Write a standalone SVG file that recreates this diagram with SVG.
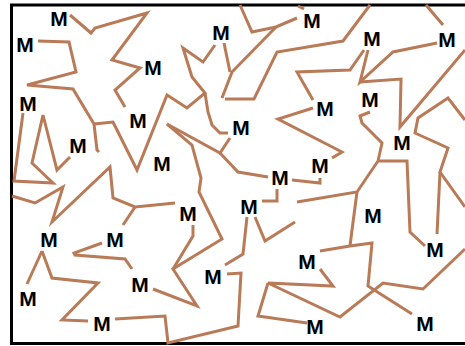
<svg xmlns="http://www.w3.org/2000/svg" width="465" height="346" viewBox="0 0 465 346">
<style>
.c{fill:none;stroke:#b97a57;stroke-width:3;stroke-linejoin:miter;stroke-linecap:butt}
.b{fill:none;stroke:#000;stroke-width:3}
text{font-family:"Liberation Sans",Arial,sans-serif;font-weight:bold;font-size:21px;fill:#000;text-anchor:middle}
</style>
<rect width="465" height="346" fill="#fff"/>
<g id="frame">
<path class="b" d="M10 5H465M11.5 4V345M10 343.5H465"/>
</g>
<g id="connectors">
<polyline class="c" points="70,15 91,33 95,28 147,13 112,60 140,68 115,90 125,107"/>
<polyline class="c" points="38,41 69,42 76,72 27,85 73,89 94,124 97,150 99,152"/>
<polyline class="c" points="94,124 113,122 117,130 137,170 167,95 187,108 205,93 192,77 183,48 203,62 215,45"/>
<polyline class="c" points="205,93 208,112 212,125 220,133 228,133"/>
<polyline class="c" points="240,5 252,32 276,27 297,18"/>
<polyline class="c" points="276,27 232,72 222,98"/>
<polyline class="c" points="224,43 230,72"/>
<polyline class="c" points="225,99 254,99 277,52 343,41 370,5"/>
<polyline class="c" points="298,6 304,9"/>
<polyline class="c" points="364,50 350,70 297,72 313,100"/>
<polyline class="c" points="368,50 360,82 393,52 437,43"/>
<polyline class="c" points="360,82 401,79 400,127 465,50"/>
<polyline class="c" points="426,5 443,25"/>
<polyline class="c" points="465,120 448,98 418,118 415,133 448,148 440,172 465,207"/>
<polyline class="c" points="440,172 437,234"/>
<polyline class="c" points="370,112 360,116 362,123 382,143 378,161 357,192 297,202"/>
<polyline class="c" points="378,161 407,161 410,232 425,246"/>
<polyline class="c" points="357,192 352,230 350,246"/>
<polyline class="c" points="320,251 350,246 372,243 368,286 412,314"/>
<polyline class="c" points="313,108 278,119 342,152 332,158"/>
<polyline class="c" points="292,180 320,183 320,178"/>
<polyline class="c" points="277,189 277,201 262,201"/>
<polyline class="c" points="167,124 220,153 230,138"/>
<polyline class="c" points="220,153 238,172 268,177"/>
<polyline class="c" points="167,124 192,145 201,178 199,192 222,239 173,269 197,306 153,289"/>
<polyline class="c" points="193,225 193,236 173,269"/>
<polyline class="c" points="247,217 243,254 225,265"/>
<polyline class="c" points="255,217 265,241 295,222"/>
<polyline class="c" points="115,319 165,316 168,343 238,326 241,273 227,274"/>
<polyline class="c" points="320,269 333,286 268,283 340,317 383,283 423,289 465,249"/>
<polyline class="c" points="268,283 258,316 307,323"/>
<polyline class="c" points="102,243 74,253 75,255 125,259 132,269"/>
<polyline class="c" points="42,251 27,284"/>
<polyline class="c" points="42,251 52,278 98,283 62,320 88,321"/>
<polyline class="c" points="23,113 14,181 53,183 32,163 43,115 57,170 70,157"/>
<polyline class="c" points="12,196 35,203 63,187 52,222 110,167 113,198 135,207 175,203"/>
<polyline class="c" points="135,207 123,225"/>
</g>
<g id="m1"><text x="59" y="26">M</text></g>
<g id="m2"><text x="25" y="52">M</text></g>
<g id="m3"><text x="221" y="40">M</text></g>
<g id="m4"><text x="312" y="28">M</text></g>
<g id="m5"><text x="372" y="46">M</text></g>
<g id="m6"><text x="447" y="47">M</text></g>
<g id="m7"><text x="153" y="75">M</text></g>
<g id="m8"><text x="28" y="111">M</text></g>
<g id="m9"><text x="138" y="128">M</text></g>
<g id="m10"><text x="325" y="116">M</text></g>
<g id="m11"><text x="370" y="107">M</text></g>
<g id="m12"><text x="241" y="135">M</text></g>
<g id="m13"><text x="78" y="153">M</text></g>
<g id="m14"><text x="162" y="171">M</text></g>
<g id="m15"><text x="402" y="150">M</text></g>
<g id="m16"><text x="320" y="173">M</text></g>
<g id="m17"><text x="280" y="185">M</text></g>
<g id="m18"><text x="249" y="214">M</text></g>
<g id="m19"><text x="188" y="221">M</text></g>
<g id="m20"><text x="373" y="223">M</text></g>
<g id="m21"><text x="49" y="247">M</text></g>
<g id="m22"><text x="115" y="247">M</text></g>
<g id="m23"><text x="435" y="257">M</text></g>
<g id="m24"><text x="307" y="269">M</text></g>
<g id="m25"><text x="213" y="284">M</text></g>
<g id="m26"><text x="140" y="292">M</text></g>
<g id="m27"><text x="28" y="306">M</text></g>
<g id="m28"><text x="102" y="331">M</text></g>
<g id="m29"><text x="315" y="334">M</text></g>
<g id="m30"><text x="425" y="331">M</text></g>
</svg>
